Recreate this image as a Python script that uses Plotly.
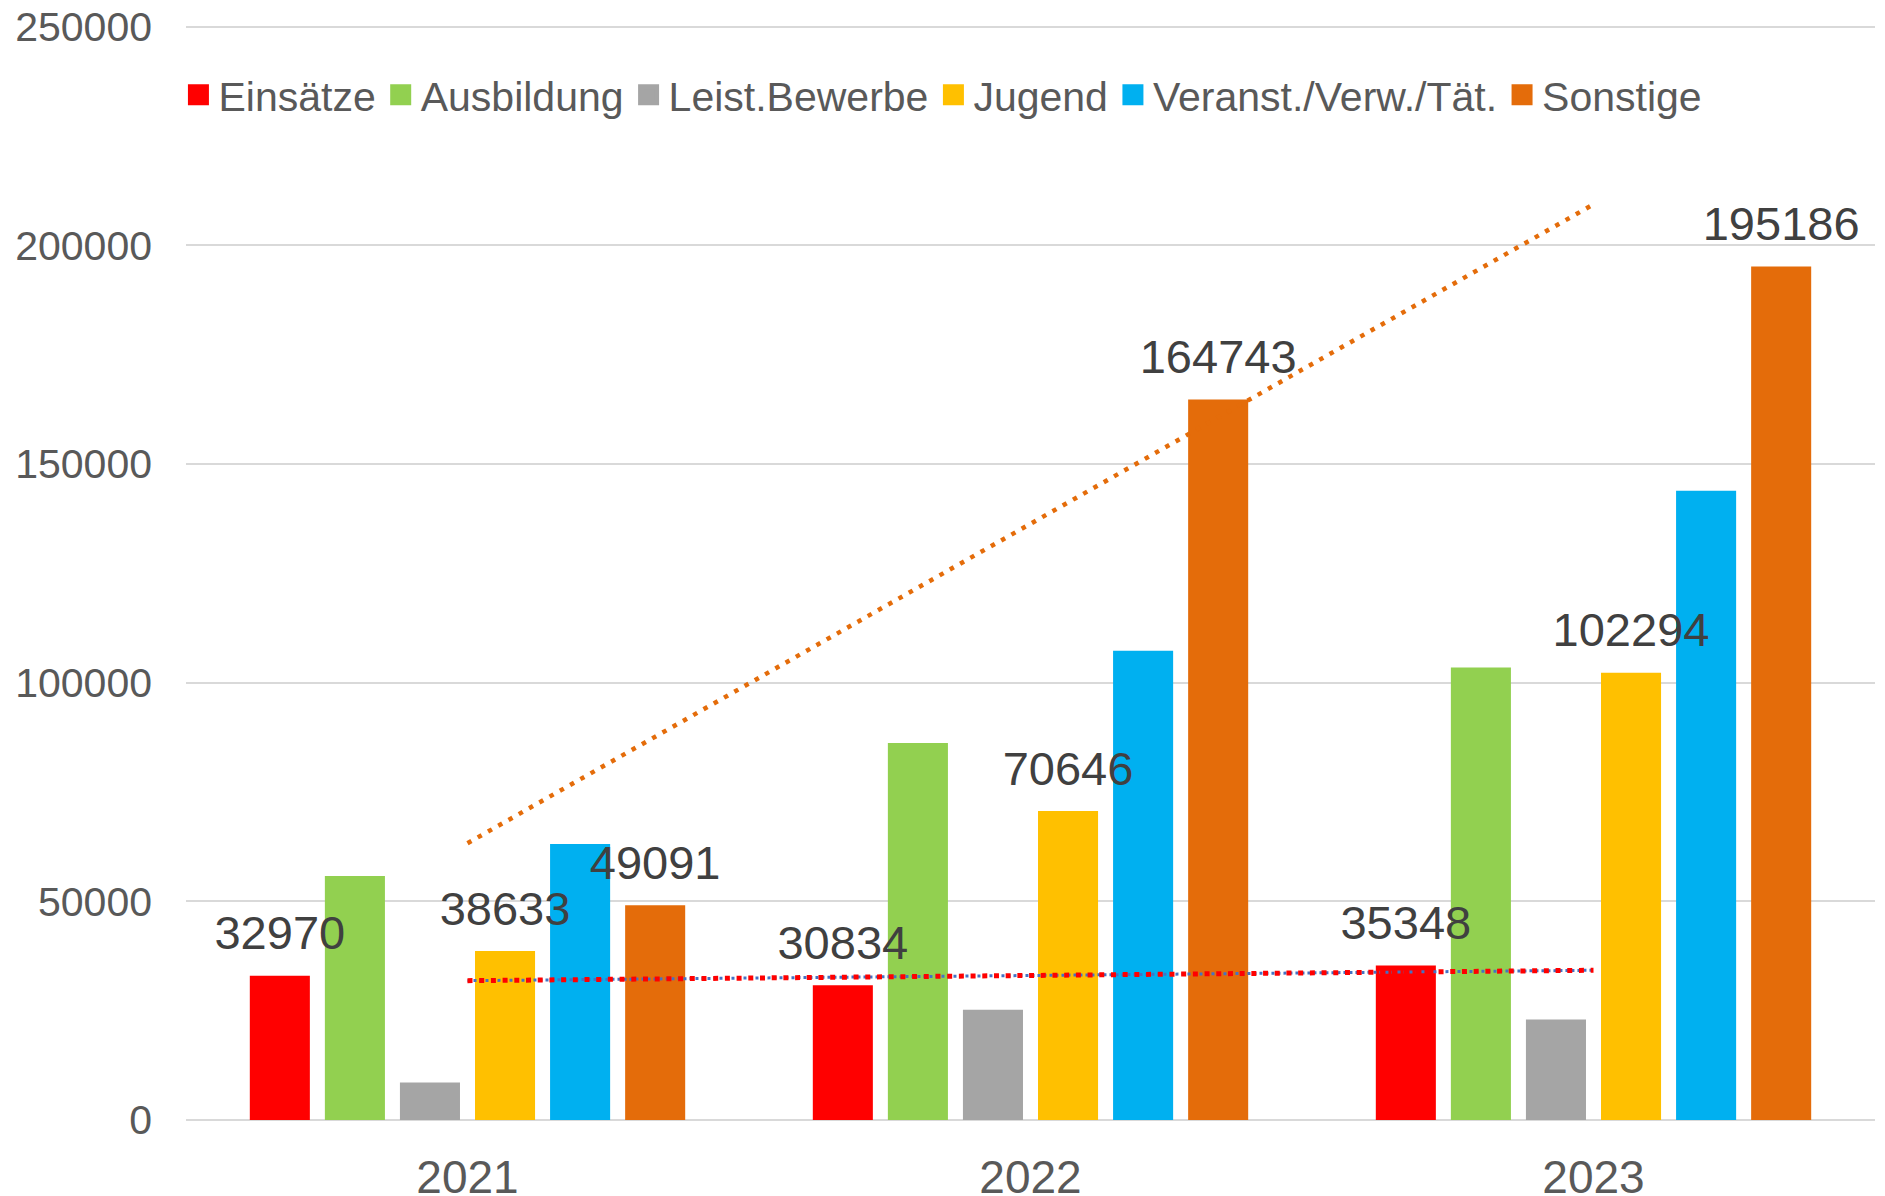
import numpy as np
import plotly.graph_objects as go

years = ["2021", "2022", "2023"]
series_names = ["Einsätze", "Ausbildung", "Leist.Bewerbe", "Jugend", "Veranst./Verw./Tät.", "Sonstige"]
einsaetze = [32970, 30834, 35348]
ausbildung = [55800, 86200, 103500]
leist_bewerbe = [8600, 25200, 23000]
jugend = [38633, 70646, 102294]
veranst = [63100, 107300, 143900]
sonstige = [49091, 164743, 195186]
y_ticks = [0, 50000, 100000, 150000, 200000, 250000]

series_values = [einsaetze, ausbildung, leist_bewerbe, jugend, veranst, sonstige]
colors = ["#FF0000", "#92D050", "#A5A5A5", "#FFC000", "#00B0F0", "#E46C0A"]
labelled = [True, False, False, True, False, True]

FONT = "Liberation Sans, Arial, sans-serif"

fig = go.Figure()

# bars
for i, (name, vals, col) in enumerate(zip(series_names, series_values, colors)):
    fig.add_trace(go.Bar(
        x=years, y=vals, name=name, marker=dict(color=col, line=dict(width=0)),
        showlegend=False, offsetgroup=f"g{i}", hoverinfo="x+y+name",
    ))

# data labels (grouped scatter so they sit at bar centres)
for i, (name, vals, lab) in enumerate(zip(series_names, series_values, labelled)):
    fig.add_trace(go.Scatter(
        x=years, y=vals, mode="markers+text",
        text=[str(v) for v in vals] if lab else ["" for _ in vals],
        textposition="top center",
        textfont=dict(family=FONT, size=47, color="#404040"),
        marker=dict(size=22, color="rgba(0,0,0,0)"),
        offsetgroup=f"g{i}", showlegend=False, hoverinfo="skip", cliponaxis=False,
    ))

# linear trendlines
xi = np.arange(1, len(years) + 1)
def trend(vals):
    k, d = np.polyfit(xi, vals, 1)
    return list(k * xi + d)

fig.add_trace(go.Scatter(
    x=years, y=trend(sonstige), mode="lines", xaxis="x2",
    line=dict(color="#E46C0A", width=4.5, dash="4.5px,7.3px"),
    showlegend=False, offsetgroup="t", hoverinfo="skip",
))
fig.add_trace(go.Scatter(
    x=years, y=trend(einsaetze), mode="lines", xaxis="x2",
    line=dict(color="#4472C4", width=3, dash="3px,3px"),
    showlegend=False, offsetgroup="t", hoverinfo="skip",
))
fig.add_trace(go.Scatter(
    x=years, y=trend(einsaetze), mode="lines", xaxis="x2",
    line=dict(color="#FF0000", width=5, dash="5px,6.7px"),
    showlegend=False, offsetgroup="t", hoverinfo="skip",
))

# legend entries
for name, col in zip(series_names, colors):
    fig.add_trace(go.Scatter(
        x=[None], y=[None], mode="markers", name=name, xaxis="x2",
        marker=dict(symbol="square", size=16, color=col, line=dict(color=col, width=5)),
        offsetgroup="t", showlegend=True,
    ))

fig.update_layout(
    width=1877, height=1188,
    margin=dict(l=178, r=10, t=17, b=76, autoexpand=False),
    paper_bgcolor="white", plot_bgcolor="white",
    barmode="group", bargap=0.2, bargroupgap=0.2,
    scattermode="group", scattergap=0.2,
    font=dict(family=FONT, color="#595959"),
    legend=dict(
        orientation="h", xref="container", x=0.0908, xanchor="left",
        y=0.936, yanchor="middle",
        font=dict(family=FONT, size=41, color="#595959"),
        bgcolor="rgba(0,0,0,0)", traceorder="normal",
    ),
    xaxis=dict(
        type="category", categoryorder="array", categoryarray=years,
        range=[-0.5, 2.5], showgrid=False, showline=False, zeroline=False,
        ticks="", tickfont=dict(family=FONT, size=46, color="#595959"),
        ticklabelstandoff=26, automargin=False, ticklabeloverflow="allow",
    ),
    xaxis2=dict(
        type="category", categoryorder="array", categoryarray=years,
        range=[-0.5, 2.5], overlaying="x", visible=False,
    ),
    yaxis=dict(
        range=[0, 250400], tickvals=y_ticks, ticktext=[str(v) for v in y_ticks],
        showgrid=True, gridcolor="#D9D9D9", gridwidth=2,
        zeroline=True, zerolinecolor="#D9D9D9", zerolinewidth=2,
        showline=False, ticks="", automargin=False, ticklabeloverflow="allow",
        tickfont=dict(family=FONT, size=41, color="#595959"),
        ticklabelstandoff=33,
    ),
)

fig.write_html("out.html")
